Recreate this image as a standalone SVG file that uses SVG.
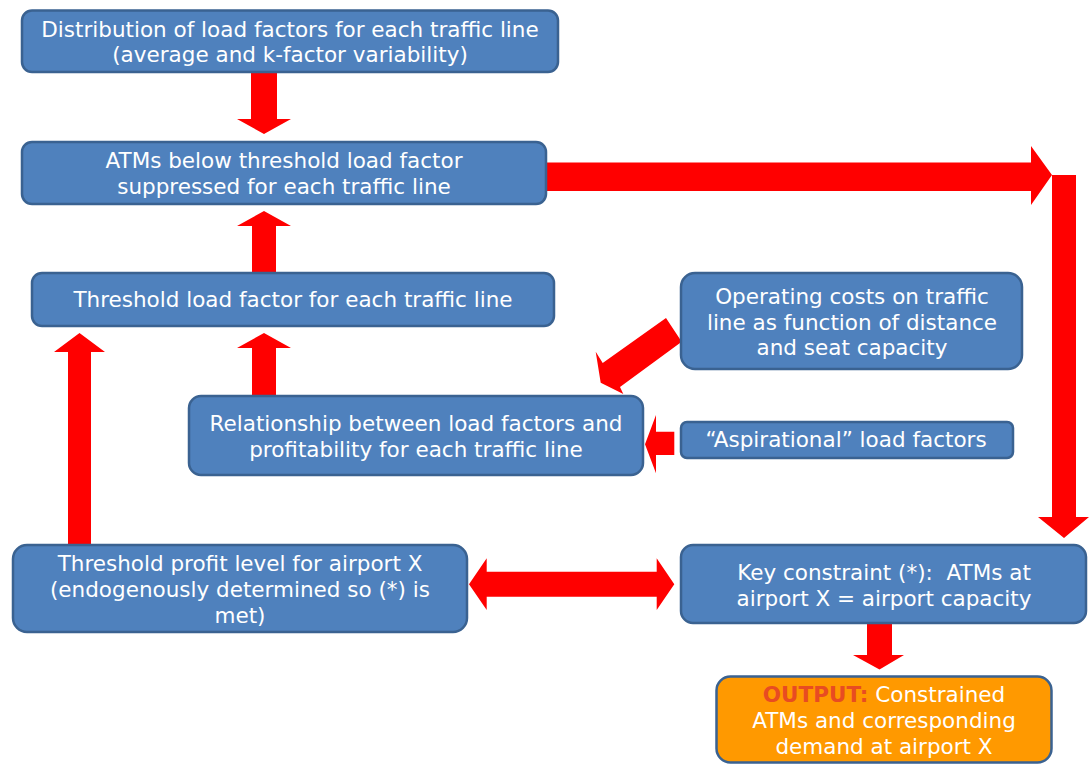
<svg xmlns="http://www.w3.org/2000/svg" width="1090" height="764" viewBox="0 0 1090 764">
<style>
.box{fill:#4F81BD;stroke:#3A6291;stroke-width:2.5}
.out{fill:#FF9900;stroke:#3A6291;stroke-width:2.5}
.t{font-family:"DejaVu Sans",sans-serif;font-size:21.5px;fill:#FFFFFF;text-anchor:middle;white-space:pre}
.arr{fill:#FF0000}
.hl{fill:#E84C22;font-weight:bold}
</style>
<rect width="1090" height="764" fill="#FFFFFF"/>
<g id="connectors">
<polygon class="arr" points="251,72 277,72 277,119 291,119 264,134 237,119 251,119"/>
<polygon class="arr" points="547,162.5 1031,162.5 1031,146 1052,175 1031,205 1031,191 547,191"/>
<polygon class="arr" points="1052,175 1076,175 1076,517 1089,517 1064,538 1038,517 1052,517"/>
<polygon class="arr" points="252,273 276,273 276,226 291,226 264,211 237,226 252,226"/>
<polygon class="arr" points="252,396 276,396 276,348 291,348 264,333 237,348 252,348"/>
<polygon class="arr" points="68,545 91,545 91,352 105,352 79.5,333 54,352 68,352"/>
<polygon class="arr" points="666,318 681.7,341.7 620,387 623.3,394 600.7,382.7 595.7,351.7 602.7,363"/>
<polygon class="arr" points="674.3,431.7 656,431.7 656,415 645,444.3 656,473.3 656,455 674.3,455"/>
<polygon class="arr" points="469,584.3 486.7,558.3 486.7,571.7 656.7,571.7 656.7,558.3 674.3,584.3 656.7,610 656.7,596.7 486.7,596.7 486.7,610"/>
<polygon class="arr" points="867,624 892,624 892,655 904,655 879.5,669.5 853,655 867,655"/>
</g>
<g id="n1">
<rect class="box" x="22" y="10.5" width="536" height="61.5" rx="10"/>
<text class="t" x="290" y="37">Distribution of load factors for each traffic line</text>
<text class="t" x="290" y="62">(average and k-factor variability)</text>
</g>
<g id="n2">
<rect class="box" x="22" y="142" width="524" height="62" rx="10"/>
<text class="t" x="284" y="168">ATMs below threshold load factor</text>
<text class="t" x="284" y="194">suppressed for each traffic line</text>
</g>
<g id="n3">
<rect class="box" x="32" y="273" width="522" height="53" rx="10"/>
<text class="t" x="293" y="307">Threshold load factor for each traffic line</text>
</g>
<g id="n4">
<rect class="box" x="681" y="273" width="341" height="96" rx="14"/>
<text class="t" x="852" y="304">Operating costs on traffic</text>
<text class="t" x="852" y="330">line as function of distance</text>
<text class="t" x="852" y="355">and seat capacity</text>
</g>
<g id="n5">
<rect class="box" x="189" y="396" width="454" height="79" rx="12"/>
<text class="t" x="416" y="431">Relationship between load factors and</text>
<text class="t" x="416" y="457">profitability for each traffic line</text>
</g>
<g id="n6">
<rect class="box" x="681" y="422" width="332" height="36" rx="6"/>
<text class="t" x="846" y="447">“Aspirational” load factors</text>
</g>
<g id="n7">
<rect class="box" x="13" y="545" width="454" height="87" rx="14"/>
<text class="t" x="240" y="571">Threshold profit level for airport X</text>
<text class="t" x="240" y="597">(endogenously determined so (*) is</text>
<text class="t" x="240" y="623">met)</text>
</g>
<g id="n8">
<rect class="box" x="681" y="545" width="405" height="78" rx="12"/>
<text class="t" x="884" y="580">Key constraint (*):  ATMs at</text>
<text class="t" x="884" y="606">airport X = airport capacity</text>
</g>
<g id="n9">
<rect class="out" x="716.5" y="676.5" width="335" height="86" rx="14"/>
<text class="t" x="884" y="702"><tspan class="hl">OUTPUT:</tspan> Constrained</text>
<text class="t" x="884" y="728">ATMs and corresponding</text>
<text class="t" x="884" y="754">demand at airport X</text>
</g>
</svg>
